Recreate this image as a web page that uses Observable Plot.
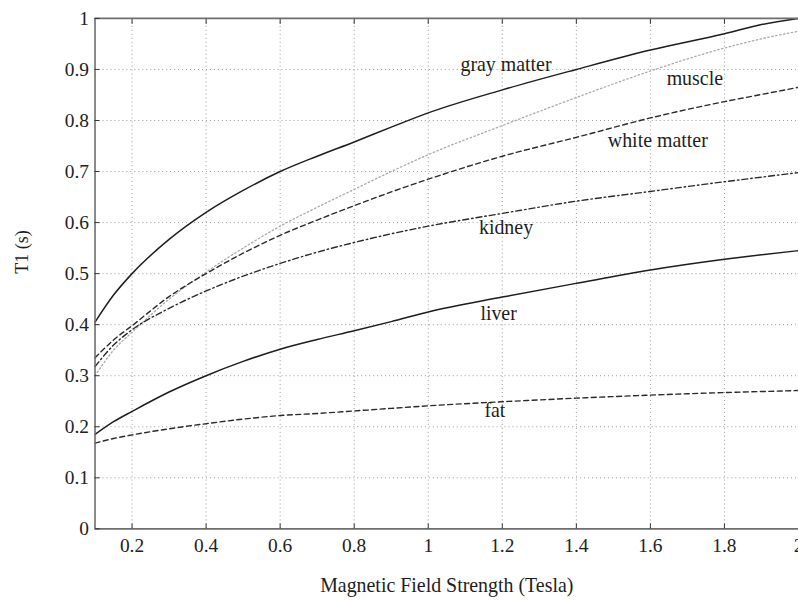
<!DOCTYPE html>
<html><head><meta charset="utf-8">
<script src="https://cdn.jsdelivr.net/npm/d3@7"></script>
<script src="https://cdn.jsdelivr.net/npm/@observablehq/plot@0.6"></script>
<style>
html,body{margin:0;padding:0;background:#fff;overflow:hidden;width:798px;height:600px}
#chart svg{display:block}
</style>
</head><body><div id="chart"></div>
<script>
// Magnetic field strength (Tesla)
const fieldStrength = [0.1,0.15,0.2,0.3,0.4,0.5,0.6,0.7,0.8,0.9,1.0,1.2,1.4,1.6,1.8,1.9,2.0];
// T1 (s) per tissue
const grayMatter  = [0.405,0.458,0.500,0.567,0.620,0.663,0.700,0.730,0.758,0.787,0.815,0.860,0.900,0.938,0.970,0.988,1.000];
const muscle      = [0.300,0.350,0.385,0.450,0.503,0.550,0.593,0.630,0.665,0.700,0.733,0.790,0.845,0.897,0.942,0.960,0.975];
const whiteMatter = [0.335,0.370,0.398,0.455,0.500,0.540,0.575,0.605,0.633,0.660,0.685,0.730,0.767,0.805,0.837,0.851,0.865];
const kidney      = [0.318,0.360,0.390,0.432,0.466,0.495,0.520,0.542,0.561,0.578,0.593,0.618,0.642,0.661,0.680,0.689,0.698];
const liver       = [0.185,0.210,0.230,0.268,0.300,0.328,0.352,0.371,0.388,0.406,0.425,0.454,0.481,0.507,0.528,0.537,0.545];
const fat         = [0.168,0.177,0.184,0.196,0.206,0.215,0.222,0.226,0.231,0.236,0.241,0.249,0.256,0.262,0.267,0.269,0.271];

const tissueNames = ["gray matter","muscle","white matter","kidney","liver","fat"];
// label anchor points (data units)
const labelX = [1.21,1.72,1.62,1.21,1.19,1.18];
const labelY = [0.91,0.883,0.76,0.59,0.421,0.232];

const xTicks = [0.2,0.4,0.6,0.8,1.0,1.2,1.4,1.6,1.8,2.0];
const xTickLabels = ["0.2","0.4","0.6","0.8","1","1.2","1.4","1.6","1.8","2"];
const yTicks = [0,0.1,0.2,0.3,0.4,0.5,0.6,0.7,0.8,0.9,1];
const yTickLabels = ["0","0.1","0.2","0.3","0.4","0.5","0.6","0.7","0.8","0.9","1"];

const xTitle = "Magnetic Field Strength (Tesla)";
const yTitle = "T1 (s)";

const seriesValues = [grayMatter, muscle, whiteMatter, kidney, liver, fat];
const seriesStyle = {
  "gray matter":  {stroke:"#1e1e1e", strokeWidth:1.5, strokeDasharray:null},
  "muscle":       {stroke:"#aaaaaa", strokeWidth:1.3, strokeDasharray:"1.5,2.5"},
  "white matter": {stroke:"#2a2a2a", strokeWidth:1.4, strokeDasharray:"5,3.5"},
  "kidney":       {stroke:"#2a2a2a", strokeWidth:1.4, strokeDasharray:"6,3,1.5,3"},
  "liver":        {stroke:"#1e1e1e", strokeWidth:1.5, strokeDasharray:null},
  "fat":          {stroke:"#2a2a2a", strokeWidth:1.4, strokeDasharray:"5,3.5"}
};

const lineMarks = tissueNames.map((name, i) => {
  const rows = fieldStrength.map((b, j) => ({b, t1: seriesValues[i][j]}));
  const s = seriesStyle[name];
  const opts = {x:"b", y:"t1", curve:"monotone-x", stroke:s.stroke, strokeWidth:s.strokeWidth};
  if (s.strokeDasharray) opts.strokeDasharray = s.strokeDasharray;
  return Plot.line(rows, opts);
});

const labels = tissueNames.map((n, i) => ({n, x: labelX[i], y: labelY[i]}));
const xFmt = d => xTickLabels[xTicks.indexOf(d)];
const yFmt = d => yTickLabels[yTicks.indexOf(d)];

const chart = Plot.plot({
  width: 802, height: 600,
  marginLeft: 95, marginRight: 0, marginTop: 18, marginBottom: 69,
  style: {fontFamily: "'Liberation Serif', 'Times New Roman', serif", background: "#fff", color: "#222"},
  x: {domain: [0.1, 2]},
  y: {domain: [0, 1]},
  marks: [
    Plot.gridX(xTicks, {stroke:"#9a9a9a", strokeOpacity:1, strokeWidth:1, strokeDasharray:"1,3"}),
    Plot.gridY(yTicks.slice(1, -1), {stroke:"#9a9a9a", strokeOpacity:1, strokeWidth:1, strokeDasharray:"1,3"}),
    ...lineMarks,
    Plot.ruleX([0.1], {stroke:"#6e6e6e", strokeWidth:1.6}),
    Plot.ruleY([0, 1], {stroke:"#6e6e6e", strokeWidth:1.6}),
    Plot.axisY(yTicks, {tickSize:5, dx:5, tickFormat:() => "", label:null, stroke:"#333"}),
    Plot.axisY(yTicks, {tickSize:0, tickPadding:6, tickFormat:yFmt, fontSize:19.5, label:null}),
    Plot.axisX(xTicks, {anchor:"bottom", tickSize:5, dy:-5, tickFormat:() => "", label:null, stroke:"#333"}),
    Plot.axisX(xTicks, {anchor:"top", tickSize:5, dy:5, tickFormat:() => "", label:null, stroke:"#333"}),
    Plot.axisX(xTicks, {anchor:"bottom", tickSize:0, tickPadding:9, tickFormat:xFmt, fontSize:19.5, label:null}),
    Plot.text(labels, {x:"x", y:"y", text:"n", fontSize:20, fill:"#1e1e1e", textAnchor:"middle"}),
    Plot.text([xTitle], {frameAnchor:"bottom", lineAnchor:"bottom", dy:63, fontSize:20, fill:"#1e1e1e"}),
    Plot.text([yTitle], {frameAnchor:"left", rotate:-90, dx:-73, fontSize:18, fill:"#1e1e1e"})
  ]
});
document.getElementById("chart").appendChild(chart);
</script>
</body></html>
